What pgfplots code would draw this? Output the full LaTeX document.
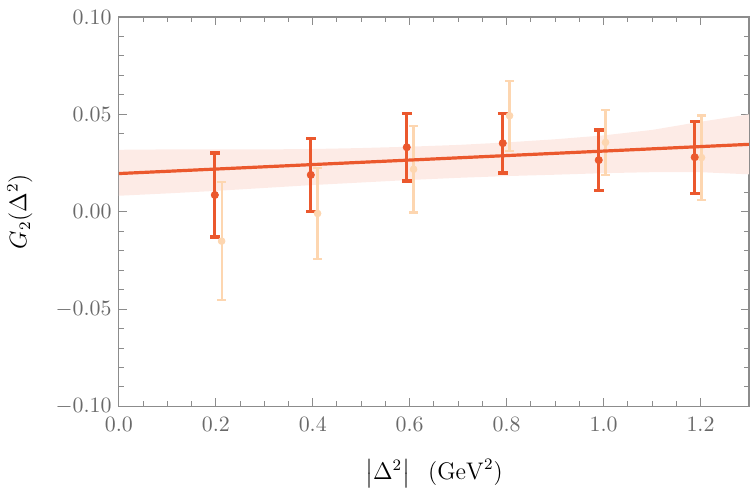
\documentclass[border=0pt]{standalone}
\usepackage{amsmath}
\usepackage{pgfplots}
\pgfplotsset{compat=1.18}
\usepackage{pgfplotstable}

\definecolor{fitred}{RGB}{235,88,45}
\definecolor{peach}{RGB}{253,214,176}
\definecolor{bandpink}{RGB}{253,235,230}
\definecolor{framegray}{RGB}{140,140,140}
\definecolor{labelgray}{RGB}{105,105,105}

% lattice points: x, value, error
\pgfplotstableread{
x      y        e
0.198  0.0086   0.0216
0.396  0.0189   0.0187
0.594  0.0331   0.0173
0.792  0.0352   0.0153
0.990  0.0265   0.0155
1.188  0.0280   0.0185
}\darkdata

\pgfplotstableread{
x      y        e
0.212  -0.0151  0.0302
0.410  -0.0009  0.0232
0.608   0.0218  0.0222
0.806   0.0493  0.0180
1.004   0.0356  0.0167
1.202   0.0278  0.0216
}\lightdata

\begin{document}
\begin{tikzpicture}
\fontsize{10.5}{12.6}\selectfont
\begin{axis}[
  at={(0,0)}, anchor=south west,
  scale only axis,
  width=315.5pt, height=195pt,
  xmin=0, xmax=1.3,
  ymin=-0.1, ymax=0.1,
  xtick={0,0.2,0.4,0.6,0.8,1.0,1.2},
  ytick={-0.1,-0.05,0,0.05,0.1},
  minor x tick num=3,
  minor y tick num=4,
  scaled y ticks=false,
  tick align=inside,
  major tick length=4pt,
  minor tick length=2.5pt,
  axis line style={framegray, line width=0.6pt},
  every tick/.style={framegray, line width=0.5pt},
  tick label style={labelgray, font=\fontsize{10.5}{12.6}\selectfont},
  xticklabel style={yshift=-2pt, /pgf/number format/fixed, /pgf/number format/fixed zerofill, /pgf/number format/precision=1},
  yticklabel style={/pgf/number format/fixed, /pgf/number format/fixed zerofill, /pgf/number format/precision=2},
  xlabel={$\bigl|\Delta^{2}\bigr|\hspace{9pt}(\mathrm{GeV}^{2})$},
  ylabel={$G_2(\Delta^{2})$},
  label style={font=\fontsize{12}{14.4}\selectfont},
  xlabel style={at={(axis description cs:0.5,-0.172)}, anchor=center},
  ylabel style={at={(axis description cs:-0.157,0.5)}, anchor=center},
  clip=true,
]
% confidence band of the linear fit
\addplot[fill=bandpink, draw=none] coordinates {
  (0.0,0.0318) (0.1,0.0320) (0.2,0.0320) (0.3,0.0320) (0.4,0.0322)
  (0.5,0.0327) (0.6,0.0334) (0.7,0.0343) (0.8,0.0356) (0.9,0.0372)
  (1.0,0.0392) (1.1,0.0420) (1.2,0.0462) (1.3,0.0500)
  (1.3,0.0192) (1.2,0.0203) (1.1,0.0203) (1.0,0.0198) (0.9,0.0190)
  (0.8,0.0183) (0.7,0.0174) (0.6,0.0163) (0.5,0.0150) (0.4,0.0137)
  (0.3,0.0122) (0.2,0.0107) (0.1,0.0094) (0.0,0.0082)
} -- cycle;

% second data set, pale
\addplot[only marks, color=peach, mark=*, mark size=1.7pt,
  error bars/.cd, y dir=both, y explicit,
  error bar style={line width=1.1pt, color=peach},
  error mark options={rotate=90, mark size=2.1pt, line width=1.1pt, color=peach}]
  table[x=x, y=y, y error=e] {\lightdata};

% linear fit
\addplot[color=fitred, line width=1.6pt] coordinates {(0,0.0196) (1.3,0.0346)};

% main data set
\addplot[only marks, color=fitred, mark=*, mark size=1.8pt,
  error bars/.cd, y dir=both, y explicit,
  error bar style={line width=1.6pt, color=fitred},
  error mark options={rotate=90, mark size=2.4pt, line width=1.6pt, color=fitred}]
  table[x=x, y=y, y error=e] {\darkdata};
\end{axis}
\pgfresetboundingbox
\path[use as bounding box] (-59.5pt,-43.5pt) rectangle (316pt,203.5pt);
\end{tikzpicture}
\end{document}
